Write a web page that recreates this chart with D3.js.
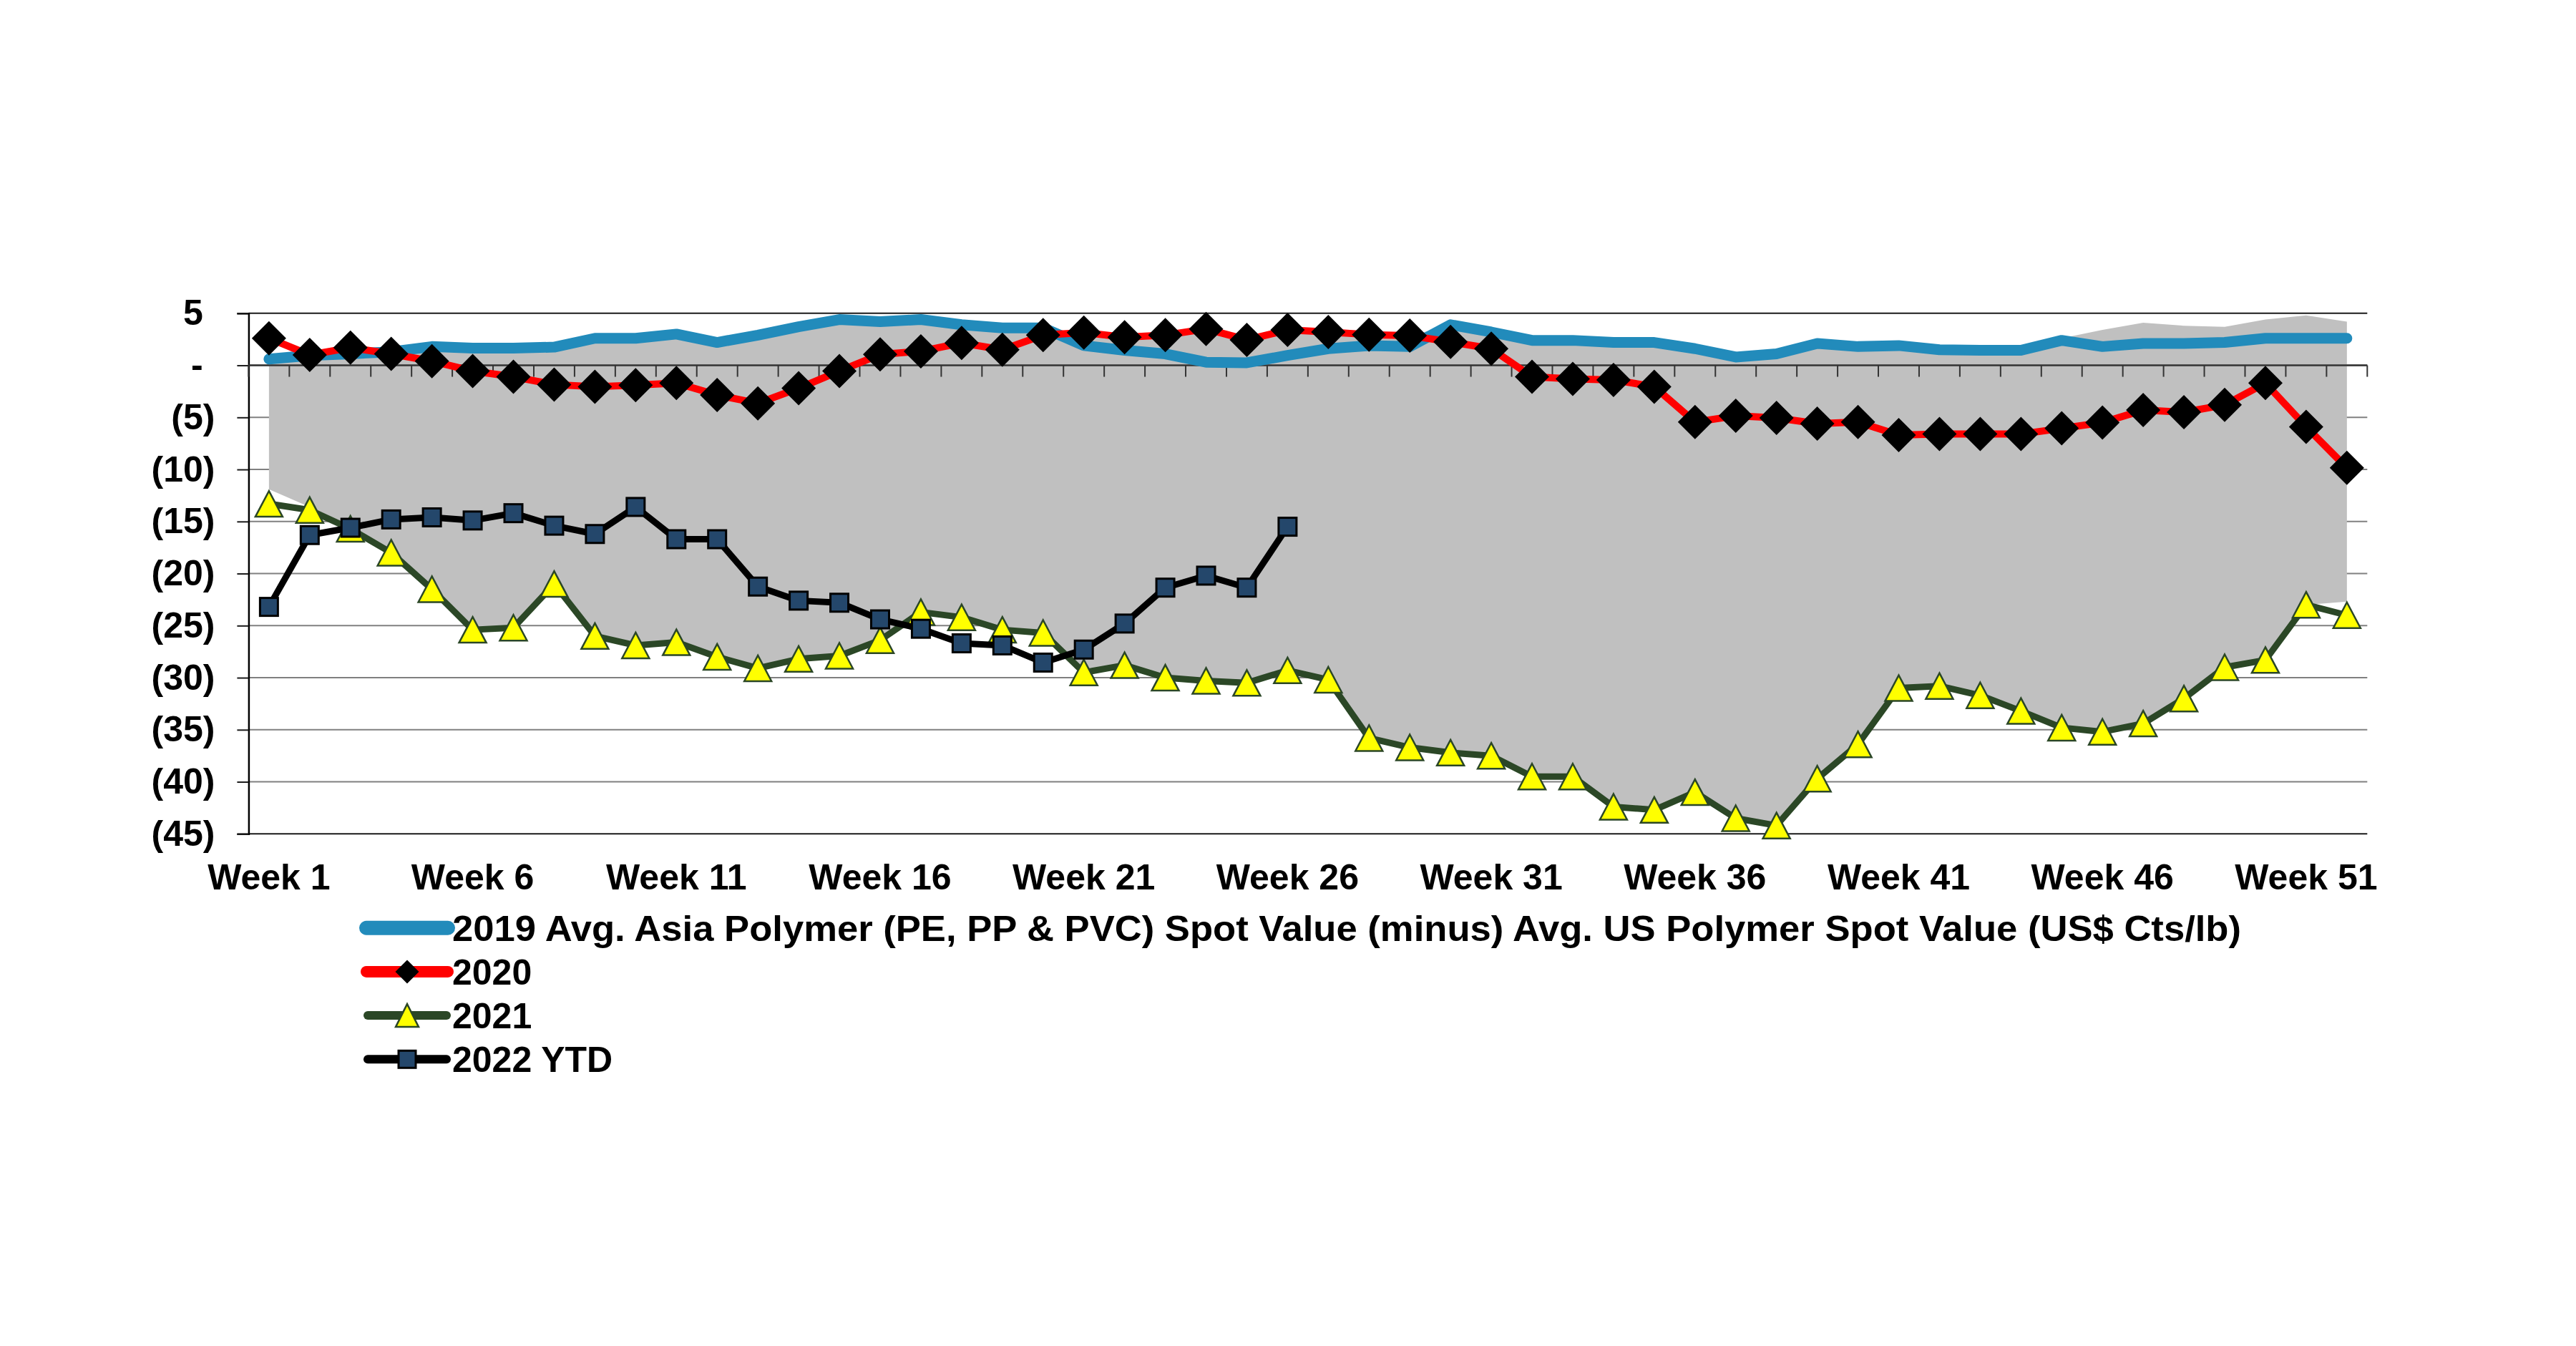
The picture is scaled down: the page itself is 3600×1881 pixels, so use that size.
<!DOCTYPE html>
<html>
<head>
<meta charset="utf-8">
<script src="https://cdn.jsdelivr.net/npm/d3@7"></script>
<style>
  body { margin: 0; background: #fff; }
  text { font-family: "Liberation Sans", Arial, sans-serif; font-weight: bold; }
</style>
</head>
<body>
<script>
var width = 3600, height = 1881;

// weeks on the category axis
var weeks = [1,2,3,4,5,6,7,8,9,10,11,12,13,14,15,16,17,18,19,20,21,22,23,24,25,26,
             27,28,29,30,31,32,33,34,35,36,37,38,39,40,41,42,43,44,45,46,47,48,49,50,51,52];
var weekLabels = [1, 6, 11, 16, 21, 26, 31, 36, 41, 46, 51];
var yTicks = [5, 0, -5, -10, -15, -20, -25, -30, -35, -40, -45];

// grey band (historic range)
var rangeHigh = [0.6, 1.0, 1.2, 1.3, 1.8, 1.65, 1.65, 1.75, 2.6, 2.6, 3.0, 2.2, 2.9, 3.7, 4.4, 4.2, 4.4, 3.9, 3.6, 3.6,
                 3.1, 2.7, 2.9, 3.4, 2.4, 3.3, 3.1, 2.9, 2.8, 3.9, 3.2, 2.4, 2.4, 2.2, 2.2, 1.6, 0.8, 1.1, 2.1, 1.8,
                 1.9, 1.5, 1.45, 1.45, 2.6, 3.4, 4.1, 3.8, 3.7, 4.4, 4.8, 4.2];
var rangeLow = [-11.9, -13.6, -15.5, -18.0, -21.5, -25.4, -25.2, -21.0, -26.0, -26.9, -26.6, -28.0, -29.1, -28.2, -27.9,
                -26.4, -23.7, -24.2, -25.4, -25.7, -29.5, -28.8, -30.0, -30.3, -30.5, -29.3, -30.2, -35.8, -36.7, -37.2,
                -37.5, -39.5, -39.5, -42.4, -42.7, -41.0, -43.5, -44.2, -39.7, -36.4, -31.0, -30.8, -31.7, -33.2, -34.8,
                -35.2, -34.4, -32.0, -29.0, -28.3, -23.0, -22.7];

var s2019 = [0.6, 0.95, 1.1, 1.3, 1.8, 1.65, 1.65, 1.75, 2.6, 2.6, 3.0, 2.2, 2.9, 3.7, 4.4, 4.2, 4.4, 3.9, 3.6, 3.6,
             1.9, 1.45, 1.1, 0.3, 0.25, 0.95, 1.6, 1.9, 1.8, 3.9, 3.2, 2.4, 2.4, 2.2, 2.2, 1.6, 0.8, 1.1, 2.1, 1.8,
             1.9, 1.5, 1.45, 1.45, 2.4, 1.8, 2.1, 2.1, 2.2, 2.6, 2.6, 2.6];
var s2020 = [2.6, 1.0, 1.7, 1.1, 0.4, -0.55, -1.1, -1.85, -2.05, -1.9, -1.7, -2.85, -3.65, -2.2, -0.55, 1.05, 1.35, 2.15,
             1.5, 2.9, 3.15, 2.7, 2.9, 3.5, 2.45, 3.4, 3.2, 2.95, 2.85, 2.25, 1.6, -1.1, -1.3, -1.4, -2.05, -5.45,
             -4.85, -5.05, -5.6, -5.45, -6.7, -6.6, -6.6, -6.6, -6.05, -5.5, -4.3, -4.5, -3.8, -1.7, -5.9, -9.85];
var s2021 = [-13.3, -13.9, -15.7, -18.0, -21.5, -25.4, -25.2, -21.0, -26.0, -26.9, -26.6, -28.0, -29.1, -28.2, -27.9,
             -26.4, -23.7, -24.2, -25.4, -25.7, -29.5, -28.8, -30.0, -30.3, -30.5, -29.3, -30.2, -35.8, -36.7, -37.2,
             -37.5, -39.5, -39.5, -42.4, -42.7, -41.0, -43.5, -44.2, -39.7, -36.4, -31.0, -30.8, -31.7, -33.2, -34.8,
             -35.2, -34.4, -32.0, -29.0, -28.3, -23.0, -24.0];
var s2022 = [-23.2, -16.3, -15.6, -14.8, -14.6, -14.9, -14.2, -15.4, -16.2, -13.6, -16.7, -16.7, -21.25, -22.6, -22.8,
             -24.4, -25.3, -26.7, -26.9, -28.55, -27.3, -24.8, -21.35, -20.2, -21.35, -15.5];

var legendNames = ["2019 Avg. Asia Polymer (PE, PP & PVC) Spot Value (minus) Avg. US Polymer Spot Value (US$ Cts/lb)",
                   "2020", "2021", "2022 YTD"];

var svg = d3.select("body").append("svg")
    .attr("width", width)
    .attr("height", height);

svg.append("rect").attr("width", width).attr("height", height).attr("fill", "#fff");

var x = d3.scaleBand().domain(weeks).range([347.4, 3308.3]).paddingInner(0).paddingOuter(0);
var y = d3.scaleLinear().domain([-45, 5]).range([1165.3, 437.8]);
var cx = function (w) { return x(w) + x.bandwidth() / 2; };

// gridlines
svg.append("g").selectAll("line")
    .data(yTicks)
    .enter().append("line")
    .attr("x1", x.range()[0]).attr("x2", x.range()[1])
    .attr("y1", function (d) { return y(d); }).attr("y2", function (d) { return y(d); })
    .attr("stroke", function (d) { return (d === 5 || d === -45) ? "#1a1a1a" : "#808080"; })
    .attr("stroke-width", 2);

// y axis
var yAxis = svg.append("g")
    .attr("transform", "translate(" + x.range()[0] + ",0)")
    .call(d3.axisLeft(y).tickValues(yTicks).tickSize(16).tickPadding(31)
        .tickFormat(function (d) { return d > 0 ? d : (d === 0 ? "-" : "(" + (-d) + ")"); }));
yAxis.select(".domain").attr("stroke", "#000").attr("stroke-width", 2.5);
yAxis.selectAll(".tick line").attr("stroke", "#1a1a1a").attr("stroke-width", 2);
yAxis.selectAll(".tick text")
    .attr("font-size", 50)
    .attr("fill", "#000")
    .attr("x", function (d) { return d >= 0 ? -47 - 16.7 : -47; });

// grey range band
var area = d3.area()
    .x(function (d, i) { return cx(weeks[i]); })
    .y0(function (d, i) { return y(rangeLow[i]); })
    .y1(function (d, i) { return y(rangeHigh[i]); });

svg.append("path")
    .datum(weeks)
    .attr("d", area)
    .attr("fill", "#c0c0c0");

// category axis at zero with ticks between weeks
var zeroAxis = svg.append("g");
zeroAxis.append("line")
    .attr("x1", x.range()[0]).attr("x2", x.range()[1])
    .attr("y1", y(0)).attr("y2", y(0))
    .attr("stroke", "#333").attr("stroke-width", 2.5);
zeroAxis.selectAll(".wt")
    .data(weeks.concat([53]))
    .enter().append("line")
    .attr("class", "wt")
    .attr("x1", function (d) { return x.range()[0] + (d - 1) * x.bandwidth(); })
    .attr("x2", function (d) { return x.range()[0] + (d - 1) * x.bandwidth(); })
    .attr("y1", y(0)).attr("y2", y(0) + 16)
    .attr("stroke", "#333").attr("stroke-width", 2);

// week labels along the bottom
var xAxis = svg.append("g")
    .attr("transform", "translate(0," + y(-45) + ")")
    .call(d3.axisBottom(x).tickValues(weekLabels).tickSize(0).tickPadding(42)
        .tickFormat(function (d) { return "Week " + d; }));
xAxis.select(".domain").remove();
xAxis.selectAll("text").attr("font-size", 50).attr("fill", "#000");

var line = function (arr) {
    return d3.line()
        .x(function (d, i) { return cx(weeks[i]); })
        .y(function (d) { return y(d); })(arr);
};

// 2019 line
svg.append("path")
    .attr("d", line(s2019))
    .attr("fill", "none")
    .attr("stroke", "#228bbb")
    .attr("stroke-width", 15)
    .attr("stroke-linecap", "round")
    .attr("stroke-linejoin", "round");

// 2020 line + diamonds
svg.append("path")
    .attr("d", line(s2020))
    .attr("fill", "none").attr("stroke", "#ff0000").attr("stroke-width", 10)
    .attr("stroke-linejoin", "round");
svg.append("g").selectAll("path")
    .data(s2020)
    .enter().append("path")
    .attr("d", "M0,-24L24,0L0,24L-24,0Z")
    .attr("transform", function (d, i) { return "translate(" + cx(weeks[i]) + "," + y(d) + ")"; })
    .attr("fill", "#000");

// 2021 line + triangles
svg.append("path")
    .attr("d", line(s2021))
    .attr("fill", "none").attr("stroke", "#2b4726").attr("stroke-width", 9)
    .attr("stroke-linejoin", "round");
svg.append("g").selectAll("path")
    .data(s2021)
    .enter().append("path")
    .attr("d", "M0,-18L19,18L-19,18Z")
    .attr("transform", function (d, i) { return "translate(" + cx(weeks[i]) + "," + y(d) + ")"; })
    .attr("fill", "#ffff00").attr("stroke", "#2b4726").attr("stroke-width", 2.5);

// 2022 YTD line + squares
svg.append("path")
    .attr("d", line(s2022))
    .attr("fill", "none").attr("stroke", "#000").attr("stroke-width", 9)
    .attr("stroke-linejoin", "round");
svg.append("g").selectAll("rect")
    .data(s2022)
    .enter().append("rect")
    .attr("x", function (d, i) { return cx(weeks[i]) - 12.5; })
    .attr("y", function (d) { return y(d) - 12.5; })
    .attr("width", 25).attr("height", 25)
    .attr("fill", "#24476b").attr("stroke", "#000").attr("stroke-width", 3);

// legend
var legend = svg.append("g").attr("transform", "translate(0,1296.7)");
var rowH = 61.2;
var lx1 = 512, lx2 = 626, lmid = 569;

legend.append("line").attr("x1", lx1).attr("x2", lx2).attr("y1", 0).attr("y2", 0)
    .attr("stroke", "#228bbb").attr("stroke-width", 20).attr("stroke-linecap", "round");

legend.append("line").attr("x1", lx1).attr("x2", lx2).attr("y1", rowH).attr("y2", rowH)
    .attr("stroke", "#ff0000").attr("stroke-width", 16).attr("stroke-linecap", "round");
legend.append("path").attr("d", "M0,-16.5L16.5,0L0,16.5L-16.5,0Z")
    .attr("transform", "translate(" + lmid + "," + rowH + ")").attr("fill", "#000");

legend.append("line").attr("x1", lx1 + 2).attr("x2", lx2 - 2).attr("y1", rowH * 2).attr("y2", rowH * 2)
    .attr("stroke", "#2b4726").attr("stroke-width", 12).attr("stroke-linecap", "round");
legend.append("path").attr("d", "M0,-16L16,16L-16,16Z")
    .attr("transform", "translate(" + lmid + "," + rowH * 2 + ")")
    .attr("fill", "#ffff00").attr("stroke", "#2b4726").attr("stroke-width", 2.5);

legend.append("line").attr("x1", lx1 + 2).attr("x2", lx2 - 2).attr("y1", rowH * 3).attr("y2", rowH * 3)
    .attr("stroke", "#000").attr("stroke-width", 12).attr("stroke-linecap", "round");
legend.append("rect").attr("x", lmid - 12).attr("y", rowH * 3 - 12).attr("width", 24).attr("height", 24)
    .attr("fill", "#24476b").attr("stroke", "#000").attr("stroke-width", 3);

legend.selectAll("text")
    .data(legendNames)
    .enter().append("text")
    .attr("x", 632)
    .attr("y", function (d, i) { return i * rowH + 18; })
    .attr("font-size", 50)
    .attr("fill", "#000")
    .text(function (d) { return d; });

// the long legend entry is a bit wider in the original rendering
legend.select("text")
    .attr("textLength", 2500)
    .attr("lengthAdjust", "spacingAndGlyphs");
</script>
</body>
</html>
